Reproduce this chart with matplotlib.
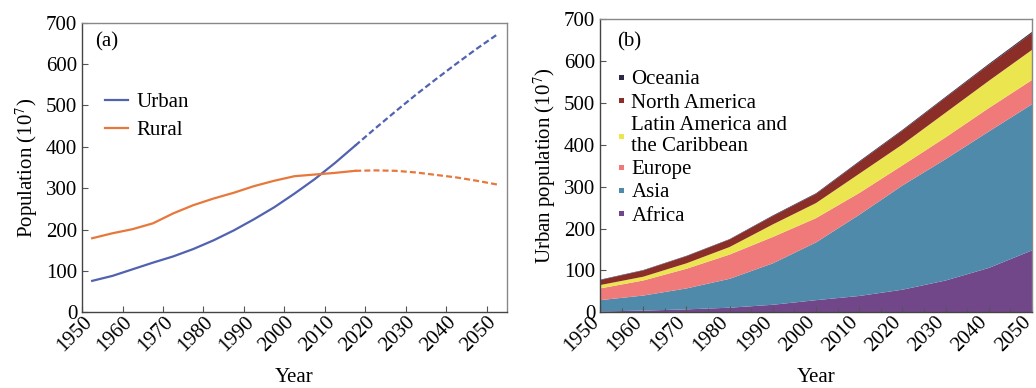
import numpy as np
import matplotlib
matplotlib.use('Agg')
import matplotlib.pyplot as plt
from matplotlib.lines import Line2D
from matplotlib.transforms import ScaledTranslation

plt.rcParams['font.family'] = ['Liberation Serif', 'DejaVu Serif']
plt.rcParams['mathtext.fontset'] = 'stix'

# (a) world urban / rural population, 10^7, five-year period midpoints
years_a = [1952.5, 1957.5, 1962.5, 1967.5, 1972.5, 1977.5, 1982.5, 1987.5, 1992.5, 1997.5,
           2002.5, 2007.5, 2012.5, 2017.5, 2022.5, 2027.5, 2032.5, 2037.5, 2042.5, 2047.5, 2052.5]
urban = [76, 88, 104, 120, 135, 153, 174, 198, 225, 254,
         287, 322, 361, 403, 445, 486, 526, 564, 601, 637, 671]
rural = [179, 191, 201, 215, 239, 259, 275, 289, 305, 318,
         329, 333, 337, 342, 343, 342, 338, 332, 326, 318, 309]
split_year = 2017.5  # observed -> projected

# (b) urban population by region, 10^7
years_b = [1950, 1960, 1970, 1980, 1990, 2000, 2010, 2020, 2030, 2040, 2050]
africa = [2, 4, 7, 11, 18, 29, 39, 54, 76, 106, 148]
asia = [27, 36, 50, 69, 99, 138, 194, 249, 290, 326, 349]
europe = [28, 36, 47, 58, 63, 58, 52, 48, 52, 56, 58]
latin = [8, 9, 13, 18, 30, 36, 46, 50, 59, 65, 72]
north_america = [12, 15, 17, 18, 20, 22, 28, 33, 36, 38, 40]
oceania = [1, 1, 1, 1, 1.5, 1.5, 2, 2, 2, 2.5, 3]
regions = ['Africa', 'Asia', 'Europe', 'Latin America and\nthe Caribbean', 'North America', 'Oceania']
region_colors = ['#71478a', '#4f8aab', '#f07a7a', '#ebe550', '#8b2e28', '#2d2946']

FS = 15
fig = plt.figure(figsize=(10.36, 3.88), dpi=100)
ax1 = fig.add_axes([0.0792, 0.1951, 0.4102, 0.7464])
ax2 = fig.add_axes([0.5792, 0.1951, 0.4170, 0.7552])

# ---- panel (a)
ya = np.array(years_a)
obs = ya <= split_year
prj = ya >= split_year
c_urban, c_rural = '#5162b0', '#e8773c'
dash = (0, (2.7, 1.4))
ax1.plot(ya[obs], np.array(urban)[obs], color=c_urban, lw=1.6, label='Urban')
ax1.plot(ya[prj], np.array(urban)[prj], color=c_urban, lw=1.6, ls=dash)
ax1.plot(ya[obs], np.array(rural)[obs], color=c_rural, lw=1.6, label='Rural')
ax1.plot(ya[prj], np.array(rural)[prj], color=c_rural, lw=1.6, ls=dash)
ax1.set_xlim(1950, 2055)
ax1.set_ylim(0, 700)
ax1.set_xticks(range(1950, 2051, 10))
ax1.set_yticks(range(0, 701, 100))
ax1.set_ylabel(r'Population (10$^{7}$)', fontsize=FS, labelpad=4)
ax1.text(0.031, 0.935, '(a)', transform=ax1.transAxes, fontsize=FS, va='center', ha='left')
leg1 = ax1.legend(loc='upper left', bbox_to_anchor=(0.054, 0.759), frameon=False, fontsize=FS,
                  handlelength=1.1, handletextpad=0.4, labelspacing=0.4, borderpad=0, borderaxespad=0)

# ---- panel (b)
ax2.stackplot(years_b, africa, asia, europe, latin, north_america, oceania,
              colors=region_colors, linewidth=0)
ax2.set_xlim(1950, 2050)
ax2.set_ylim(0, 700)
ax2.set_xticks(range(1950, 2051, 10))
ax2.set_xticks(range(1955, 2050, 10), minor=True)
ax2.set_yticks(range(0, 701, 100))
ax2.set_ylabel(r'Urban population (10$^{7}$)', fontsize=FS, labelpad=4)
ax2.text(0.039, 0.922, '(b)', transform=ax2.transAxes, fontsize=FS, va='center', ha='left')
handles = [Line2D([], [], ls='none', marker='s', markersize=3.6, color=c, markeredgewidth=0)
           for c in region_colors]
leg2 = ax2.legend(handles[::-1], regions[::-1], loc='upper left', bbox_to_anchor=(0.035, 0.828),
                  frameon=False, fontsize=FS, handlelength=0.6, handletextpad=0.18,
                  labelspacing=0.18, borderpad=0, borderaxespad=0)
for t in leg2.get_texts():
    t.set_linespacing(1.1)

for ax, dx in ((ax1, 7), (ax2, -4)):
    shift = ScaledTranslation(dx / 100, 0, fig.dpi_scale_trans)
    ax.set_xlabel('Year', fontsize=FS, labelpad=9)
    ax.tick_params(axis='both', which='both', direction='in', labelsize=FS, length=4, width=0.8,
                   color='#555555')
    ax.tick_params(axis='x', which='minor', length=3)
    ax.tick_params(axis='x', pad=5)
    for lab in ax.get_xticklabels():
        lab.set_rotation(45)
        lab.set_ha('right')
        lab.set_va('center')
        lab.set_rotation_mode('anchor')
        lab.set_transform(lab.get_transform() + shift)
    for side in ('left', 'bottom'):
        ax.spines[side].set_color('#444444')
        ax.spines[side].set_linewidth(1.0)
    for side in ('top', 'right'):
        ax.spines[side].set_color('#888888')
        ax.spines[side].set_linewidth(1.0)

fig.savefig('out.png', dpi=100)
